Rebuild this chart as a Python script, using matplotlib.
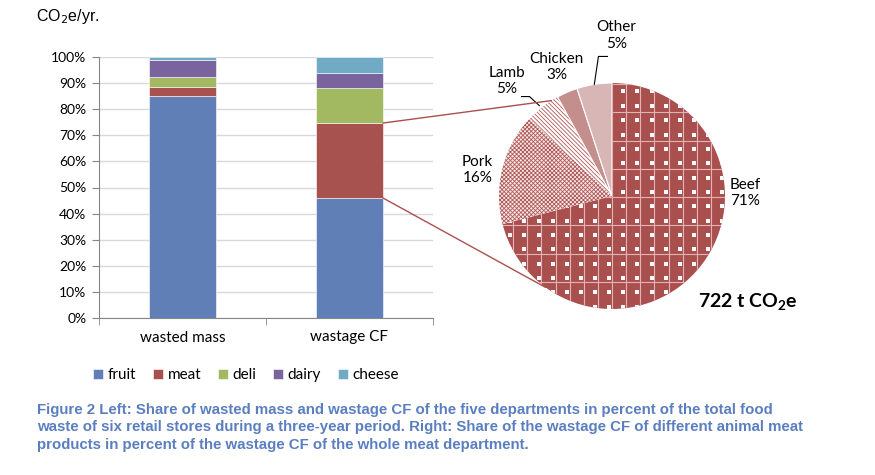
import numpy as np
import matplotlib

matplotlib.use("Agg")
import matplotlib.pyplot as plt
from matplotlib.patches import ConnectionPatch

plt.rcParams["font.family"] = ["Lato", "DejaVu Sans"]
plt.rcParams["mathtext.fontset"] = "custom"
plt.rcParams["mathtext.rm"] = "Lato"
plt.rcParams["mathtext.bf"] = "Lato:bold"
plt.rcParams["hatch.linewidth"] = 0.6

# stacked bar data (% of total)
categories = ["wasted mass", "wastage CF"]
departments = ["fruit", "meat", "deli", "dairy", "cheese"]
fruit = [85.2, 46.0]
meat = [3.3, 28.7]
deli = [3.8, 13.4]
dairy = [6.4, 5.8]
cheese = [1.3, 6.1]
dept_colors = ["#607FB7", "#A85250", "#A2B961", "#7A649D", "#70AAC5"]

# pie data (% of meat department wastage CF)
meat_products = ["Beef", "Pork", "Lamb", "Chicken", "Other"]
meat_share = [71, 16, 5, 3, 5]
total_label = "722 t CO$_\\mathbf{2}$e"

caption_lines = [
    "Figure 2 Left: Share of wasted mass and wastage CF of the five departments in percent of the total food",
    "waste of six retail stores during a three-year period. Right: Share of the wastage CF of different animal meat",
    "products in percent of the wastage CF of the whole meat department.",
]

W, H = 875, 475
fig = plt.figure(figsize=(W / 100, H / 100), dpi=100)


def px_axes(x0, y0, x1, y1):
    return fig.add_axes([x0 / W, 1 - y1 / H, (x1 - x0) / W, (y1 - y0) / H])


# ---- left: stacked bars
ax = px_axes(99, 57, 433, 318)
x = np.arange(len(categories))
bottom = np.zeros(len(categories))
for name, vals, col in zip(departments, [fruit, meat, deli, dairy, cheese], dept_colors):
    ax.bar(x, vals, 0.4, bottom=bottom, color=col, edgecolor="white",
           linewidth=0.4, label=name, zorder=3)
    bottom += np.array(vals)

ax.set_xlim(-0.5, 1.5)
ax.set_ylim(0, 100)
ax.set_yticks(np.arange(0, 101, 10))
ax.set_yticklabels([f"{v}%" for v in range(0, 101, 10)], fontsize=10)
ax.set_xticks(x)
ax.set_xticklabels(categories, fontsize=11)
ax.set_xticks([-0.5, 0.5, 1.5], minor=True)
ax.tick_params(axis="x", which="major", length=0, pad=9)
ax.tick_params(axis="x", which="minor", length=5, color="#868686")
ax.tick_params(axis="y", length=5, color="#868686", pad=4)
ax.grid(axis="y", color="#D9D9D9", linewidth=1, zorder=0)
for s in ["top", "right"]:
    ax.spines[s].set_visible(False)
for s in ["left", "bottom"]:
    ax.spines[s].set_color("#868686")

fig.legend(*ax.get_legend_handles_labels(), loc="center", ncol=5,
           bbox_to_anchor=(246 / W, 1 - 375 / H), frameon=False, fontsize=11,
           handlelength=0.65, handleheight=0.65, handletextpad=0.3,
           columnspacing=1.1)

# ---- right: pie
cx, cy, r = 612, 196, 113
pax = px_axes(cx - r, cy - r, cx + r, cy + r)
wedges, _ = pax.pie(meat_share, startangle=90, counterclock=False, radius=1,
                    wedgeprops=dict(linewidth=0))
pax.set_xlim(-1, 1)
pax.set_ylim(-1, 1)
pax.set_aspect("equal")
pax.axis("off")

beef, pork, lamb, chicken, other = wedges
beef.set_facecolor("#A9504F")
pork.set_facecolor("#F6E8E8")
pork.set_edgecolor("#B05957")
pork.set_hatch("xxxxxxxx")
lamb.set_facecolor("white")
lamb.set_edgecolor("#B05957")
lamb.set_hatch("\\\\\\\\\\\\\\\\")
chicken.set_facecolor("#C48E8C")
chicken.set_edgecolor("white")
chicken.set_linewidth(0.8)
other.set_facecolor("#D9B6B6")
other.set_edgecolor("white")
other.set_linewidth(0.8)

# beef texture: light grid with white dots
step = 0.125
for gx in np.arange(-8, 9) * step:
    pax.plot([gx, gx], [-1, 1], color="#E2B3B2", lw=0.8, clip_path=beef, zorder=2)
for gy in 0.24 + np.arange(-5, 4) * 2 * step:
    pax.plot([-1, 1], [gy, gy], color="#E2B3B2", lw=0.8, clip_path=beef, zorder=2)
dx, dy = np.meshgrid(0.1 + np.arange(-9, 9) * step,
                     0.29 + np.arange(-10, 7) * 0.127)
pax.scatter(dx.ravel(), dy.ravel(), s=5, c="white", marker="s", linewidths=0,
            clip_path=beef, zorder=3)


def rim(frac):
    a = np.deg2rad(90 - 360 * frac)
    return np.cos(a), np.sin(a)


cum = np.cumsum([0] + meat_share) / 100.0
lab = dict(fontsize=11, ha="center", va="center", linespacing=1.2)
pax.text(1.18, 0.03, f"Beef\n{meat_share[0]}%", **lab)
pax.text(-1.19, 0.23, f"Pork\n{meat_share[1]}%", **lab)
pax.text(-0.93, 1.02, f"Lamb\n{meat_share[2]}%", **lab)
pax.text(-0.49, 1.14, f"Chicken\n{meat_share[3]}%", **lab)
pax.text(0.04, 1.42, f"Other\n{meat_share[4]}%", **lab)

lx, ly = rim((cum[2] + cum[3]) / 2)
pax.plot([-0.80, -0.73, lx - 0.03], [0.88, 0.88, ly + 0.01], color="black",
         lw=0.8, clip_on=False)
ox, oy = rim((cum[4] + cum[5]) / 2)
pax.plot([-0.04, -0.12, ox], [1.235, 1.235, oy], color="black", lw=0.8,
         clip_on=False)

pax.text(1.2, -0.94, total_label, fontsize=14, fontweight="bold",
         ha="center", va="center")

# connectors from the meat segment to the pie
for yv, frac in [(fruit[1] + meat[1], 0.91), (fruit[1], 0.60)]:
    con = ConnectionPatch(xyA=(1.2, yv), coordsA=ax.transData,
                          xyB=rim(frac), coordsB=pax.transData,
                          color="#A9504F", lw=1.0)
    fig.add_artist(con)

# ---- texts
fig.text(36 / W, 1 - 16 / H, "CO$_2$e/yr.", fontsize=11.5, va="center",
         family="Liberation Sans", math_fontfamily="dejavusans")
for i, line in enumerate(caption_lines):
    fig.text(37 / W, 1 - (414 + 17.5 * i) / H, line, fontsize=10.8,
             fontweight="bold", color="#5A7EC0", family="Liberation Sans",
             va="baseline")

fig.savefig("out.png", dpi=100)
